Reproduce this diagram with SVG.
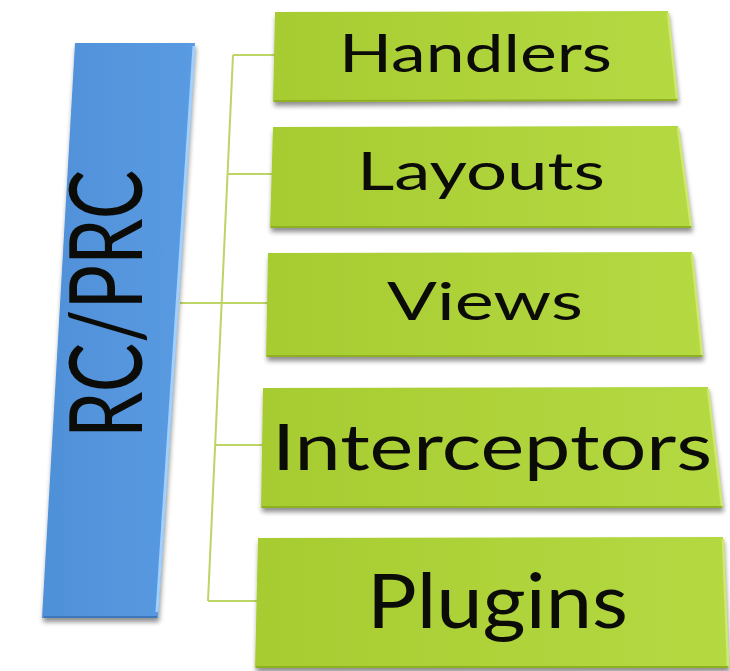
<svg xmlns="http://www.w3.org/2000/svg" width="730" height="671" viewBox="0 0 730 671">
<defs>
<linearGradient id="gGreen" x1="0" y1="0" x2="1" y2="0">
<stop offset="0" stop-color="#a7cc31"/>
<stop offset="1" stop-color="#b5d942"/>
</linearGradient>
<linearGradient id="gBlue" x1="0" y1="0" x2="1" y2="0">
<stop offset="0" stop-color="#4f90d8"/>
<stop offset="1" stop-color="#5a9be2"/>
</linearGradient>
<filter id="sh" x="-5%" y="-5%" width="115%" height="120%">
<feGaussianBlur in="SourceAlpha" stdDeviation="2.5"/>
<feOffset dx="1" dy="4" result="b"/>
<feComponentTransfer><feFuncA type="linear" slope="0.45"/></feComponentTransfer>
<feMerge><feMergeNode/><feMergeNode in="SourceGraphic"/></feMerge>
</filter>
</defs>
<style>
.g{fill:url(#gGreen);filter:url(#sh)}
.gb{fill:none;stroke:#cfe870;stroke-width:2.5}
.gd{fill:none;stroke:#8fb020;stroke-width:2}
.t{font-family:Lato,"Noto Sans","DejaVu Sans",sans-serif;fill:#0b0b08}
.c{fill:none;stroke:#bcd566;stroke-width:2}
</style>
<rect width="730" height="671" fill="#ffffff"/>
<g id="connectors">
<line class="c" x1="233" y1="55" x2="208" y2="601"/>
<line class="c" x1="233" y1="55" x2="276" y2="55"/>
<line class="c" x1="228" y1="174" x2="273" y2="174"/>
<line class="c" x1="180" y1="303" x2="268" y2="303"/>
<line class="c" x1="216" y1="445" x2="263" y2="445"/>
<line class="c" x1="208" y1="601" x2="257" y2="601"/>
</g>
<g id="rc-prc">
<polygon points="75,43 195,43 158,618 42,618" fill="url(#gBlue)" filter="url(#sh)"/>
<polyline points="194,46 157,612" fill="none" stroke="#9fd0ff" stroke-width="3"/>
<line x1="44" y1="617" x2="157" y2="617" stroke="#3d78bb" stroke-width="2"/>
<text class="t" transform="translate(142,438) rotate(-90)" font-size="100" textLength="268" lengthAdjust="spacingAndGlyphs">RC/PRC</text>
</g>
<g id="handlers">
<polygon class="g" points="275,12 668,11 678,100 273,102"/>
<line class="gb" x1="668" y1="13" x2="677" y2="98"/>
<line class="gd" x1="274" y1="101" x2="677" y2="100"/>
<text class="t" x="339" y="72" font-size="52" textLength="273" lengthAdjust="spacingAndGlyphs">Handlers</text>
</g>
<g id="layouts">
<polygon class="g" points="273,127 678,126 692,228 270,228"/>
<line class="gb" x1="678" y1="128" x2="691" y2="226"/>
<line class="gd" x1="271" y1="227" x2="691" y2="227"/>
<text class="t" x="357" y="190" font-size="52" textLength="248" lengthAdjust="spacingAndGlyphs">Layouts</text>
</g>
<g id="views">
<polygon class="g" points="268,253 692,252 703,357 266,357"/>
<line class="gb" x1="692" y1="254" x2="702" y2="355"/>
<line class="gd" x1="267" y1="356" x2="702" y2="356"/>
<text class="t" x="387" y="320" font-size="53" textLength="196" lengthAdjust="spacingAndGlyphs">Views</text>
</g>
<g id="interceptors">
<polygon class="g" points="263,388 708,387 723,508 261,508"/>
<line class="gb" x1="708" y1="389" x2="722" y2="506"/>
<line class="gd" x1="262" y1="507" x2="722" y2="507"/>
<text class="t" x="272" y="470" font-size="63" textLength="440" lengthAdjust="spacingAndGlyphs">Interceptors</text>
</g>
<g id="plugins">
<polygon class="g" points="258,538 723,537 729,668 255,668"/>
<line class="gb" x1="723" y1="539" x2="728" y2="666"/>
<line class="gd" x1="256" y1="667" x2="728" y2="667"/>
<text class="t" x="367" y="628" font-size="75" textLength="261" lengthAdjust="spacingAndGlyphs">Plugins</text>
</g>
</svg>
